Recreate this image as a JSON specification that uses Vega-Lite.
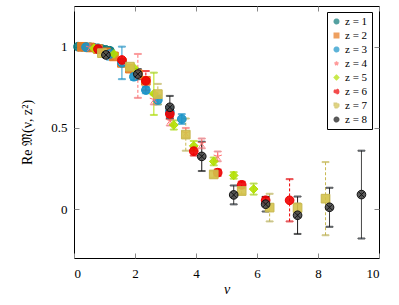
{
  "$schema": "https://vega.github.io/schema/vega-lite/v6.json",
  "width": 305,
  "height": 252,
  "autosize": {"type": "none"},
  "padding": {"left": 74, "top": 6, "right": 20, "bottom": 47},
  "background": "white",
  "config": {
    "view": {"stroke": "black", "strokeWidth": 1},
    "font": "Liberation Serif",
    "axis": {
      "grid": false,
      "domain": false,
      "tickColor": "#888888",
      "tickSize": -5,
      "labelFont": "Liberation Serif",
      "labelFontSize": 13,
      "labelColor": "black",
      "titleFont": "Liberation Serif",
      "titleFontSize": 14,
      "titleFontWeight": "normal",
      "titleColor": "black"
    },
    "legend": {
      "labelFont": "Liberation Serif",
      "labelFontSize": 11,
      "labelColor": "black"
    }
  },
  "data": {
    "values": [
      {"z": 1, "nu": 0.131, "y": 1.0},
      {"z": 1, "nu": 0.262, "y": 0.999},
      {"z": 1, "nu": 0.393, "y": 0.998},
      {"z": 1, "nu": 0.524, "y": 0.996},
      {"z": 1, "nu": 0.654, "y": 0.993},
      {"z": 1, "nu": 0.785, "y": 0.99},
      {"z": 1, "nu": 0.916, "y": 0.985},
      {"z": 1, "nu": 1.047, "y": 0.98},
      {"z": 1, "nu": 1.178, "y": 0.975},
      {"z": 2, "nu": 0.262, "y": 0.999},
      {"z": 2, "nu": 0.524, "y": 0.995},
      {"z": 2, "nu": 0.785, "y": 0.985},
      {"z": 2, "nu": 1.047, "y": 0.965},
      {"z": 2, "nu": 1.309, "y": 0.94},
      {"z": 2, "nu": 1.571, "y": 0.9},
      {"z": 2, "nu": 1.833, "y": 0.865},
      {"z": 2, "nu": 2.094, "y": 0.83},
      {"z": 2, "nu": 2.356, "y": 0.79},
      {"z": 3, "nu": 0.393, "y": 0.997},
      {"z": 3, "nu": 0.785, "y": 0.985},
      {"z": 3, "nu": 1.178, "y": 0.955, "lo": 0.92, "hi": 0.99},
      {"z": 3, "nu": 1.571, "y": 0.9, "lo": 0.8, "hi": 1.0},
      {"z": 3, "nu": 1.963, "y": 0.815, "lo": 0.795, "hi": 0.835},
      {"z": 3, "nu": 2.356, "y": 0.733, "lo": 0.713, "hi": 0.753},
      {"z": 3, "nu": 2.749, "y": 0.672, "lo": 0.645, "hi": 0.7},
      {"z": 3, "nu": 3.142, "y": 0.6, "lo": 0.57, "hi": 0.63},
      {"z": 3, "nu": 3.534, "y": 0.555, "lo": 0.525, "hi": 0.585},
      {"z": 4, "nu": 0.524, "y": 0.995},
      {"z": 4, "nu": 1.047, "y": 0.965},
      {"z": 4, "nu": 1.571, "y": 0.91},
      {"z": 4, "nu": 2.094, "y": 0.82, "lo": 0.685, "hi": 0.955},
      {"z": 4, "nu": 2.618, "y": 0.675, "lo": 0.645, "hi": 0.705},
      {"z": 4, "nu": 3.142, "y": 0.545, "lo": 0.515, "hi": 0.575},
      {"z": 4, "nu": 3.665, "y": 0.47, "lo": 0.44, "hi": 0.5},
      {"z": 4, "nu": 4.189, "y": 0.405, "lo": 0.375, "hi": 0.435},
      {"z": 4, "nu": 4.712, "y": 0.325, "lo": 0.295, "hi": 0.355},
      {"z": 5, "nu": 0.654, "y": 0.99},
      {"z": 5, "nu": 1.309, "y": 0.955},
      {"z": 5, "nu": 1.963, "y": 0.87},
      {"z": 5, "nu": 2.618, "y": 0.71, "lo": 0.58, "hi": 0.84},
      {"z": 5, "nu": 3.272, "y": 0.518, "lo": 0.49, "hi": 0.546},
      {"z": 5, "nu": 3.927, "y": 0.39, "lo": 0.36, "hi": 0.42},
      {"z": 5, "nu": 4.581, "y": 0.294, "lo": 0.27, "hi": 0.318},
      {"z": 5, "nu": 5.236, "y": 0.208, "lo": 0.188, "hi": 0.228},
      {"z": 5, "nu": 5.89, "y": 0.124, "lo": 0.09, "hi": 0.158},
      {"z": 6, "nu": 0.785, "y": 0.985},
      {"z": 6, "nu": 1.571, "y": 0.918},
      {"z": 6, "nu": 2.356, "y": 0.79, "lo": 0.73, "hi": 0.85},
      {"z": 6, "nu": 3.142, "y": 0.586, "lo": 0.566, "hi": 0.606},
      {"z": 6, "nu": 3.927, "y": 0.357, "lo": 0.33, "hi": 0.384},
      {"z": 6, "nu": 4.712, "y": 0.225, "lo": 0.205, "hi": 0.245},
      {"z": 6, "nu": 5.498, "y": 0.15, "lo": 0.13, "hi": 0.17},
      {"z": 6, "nu": 6.283, "y": 0.055, "lo": 0.035, "hi": 0.075},
      {"z": 6, "nu": 7.069, "y": 0.055, "lo": -0.075, "hi": 0.185},
      {"z": 7, "nu": 0.916, "y": 0.96},
      {"z": 7, "nu": 1.833, "y": 0.877},
      {"z": 7, "nu": 2.749, "y": 0.708, "lo": 0.645, "hi": 0.771},
      {"z": 7, "nu": 3.665, "y": 0.459, "lo": 0.36, "hi": 0.558},
      {"z": 7, "nu": 4.581, "y": 0.214, "lo": 0.194, "hi": 0.234},
      {"z": 7, "nu": 5.498, "y": 0.112, "lo": 0.092, "hi": 0.132},
      {"z": 7, "nu": 6.414, "y": 0.01, "lo": -0.075, "hi": 0.095},
      {"z": 7, "nu": 7.33, "y": 0.008, "lo": -0.02, "hi": 0.036},
      {"z": 7, "nu": 8.247, "y": 0.065, "lo": -0.16, "hi": 0.29},
      {"z": 8, "nu": 1.047, "y": 0.949, "lo": 0.939, "hi": 0.959},
      {"z": 8, "nu": 2.094, "y": 0.831, "lo": 0.8, "hi": 0.862},
      {"z": 8, "nu": 3.142, "y": 0.627, "lo": 0.557, "hi": 0.697},
      {"z": 8, "nu": 4.189, "y": 0.325, "lo": 0.235, "hi": 0.415},
      {"z": 8, "nu": 5.236, "y": 0.088, "lo": 0.03, "hi": 0.146},
      {"z": 8, "nu": 6.283, "y": 0.031, "lo": -0.014, "hi": 0.076},
      {"z": 8, "nu": 7.33, "y": -0.037, "lo": -0.152, "hi": 0.078},
      {"z": 8, "nu": 8.378, "y": 0.012, "lo": -0.108, "hi": 0.132},
      {"z": 8, "nu": 9.425, "y": 0.09, "lo": -0.18, "hi": 0.36}
    ]
  },
  "resolve": {"axis": {"x": "independent", "y": "independent"}},
  "layer": [
    {
      "transform": [{"filter": "isValid(datum.lo)"}],
      "mark": {"type": "rule", "strokeWidth": 1},
      "encoding": {
        "x": {"field": "nu", "type": "quantitative", "scale": {"domain": [0, 10], "nice": false}, "axis": null},
        "y": {"field": "lo", "type": "quantitative", "scale": {"domain": [-0.3, 1.25], "nice": false, "zero": false}, "axis": null},
        "y2": {"field": "hi"},
        "stroke": {"field": "z", "type": "nominal"},
        "strokeDash": {"field": "z", "type": "nominal", "legend": null,
          "scale": {"domain": [1,2,3,4,5,6,7,8], "range": [[1,0],[1,0],[1,0],[3,2],[1,0],[3,2],[3,2],[1,0]]}}
      }
    },
    {
      "transform": [{"filter": "isValid(datum.lo)"}],
      "mark": {"type": "tick", "orient": "horizontal", "size": 7, "thickness": 1},
      "encoding": {
        "x": {"field": "nu", "type": "quantitative", "axis": {"orient": "top", "labels": false, "title": null, "values": [0,2,4,6,8,10]}},
        "y": {"field": "lo", "type": "quantitative", "axis": null},
        "stroke": {"field": "z", "type": "nominal"}
      }
    },
    {
      "transform": [{"filter": "isValid(datum.lo)"}],
      "mark": {"type": "tick", "orient": "horizontal", "size": 7, "thickness": 1},
      "encoding": {
        "x": {"field": "nu", "type": "quantitative", "axis": null},
        "y": {"field": "hi", "type": "quantitative", "axis": {"orient": "right", "labels": false, "title": null, "values": [0, 0.5, 1]}},
        "stroke": {"field": "z", "type": "nominal"}
      }
    },
    {
      "mark": {"type": "point", "filled": true, "size": 75, "strokeWidth": 1, "fillOpacity": 0.9, "opacity": 1},
      "encoding": {
        "x": {"field": "nu", "type": "quantitative", "axis": {"orient": "bottom", "title": "ν", "values": [0,2,4,6,8,10], "labelPadding": 14, "titlePadding": 2, "titleFontStyle": "italic"}},
        "y": {"field": "y", "type": "quantitative", "axis": {"orient": "left", "title": "Re 𝔐(ν, z²)", "values": [0, 0.5, 1], "format": "~g", "labelPadding": 12, "titlePadding": 16}},
        "fill": {"field": "z", "type": "nominal",
          "scale": {"domain": [1,2,3,4,5,6,7,8], "range": ["#0d7a7a", "#e8781e", "#1a94c8", "#ff7070", "#b2e000", "#ee0000", "#d4c24a", "#4a4a4a"]},
          "legend": {"title": null, "orient": "none", "legendX": 253, "legendY": 6, "strokeColor": "black", "fillColor": "white", "padding": 4, "symbolSize": 20, "rowPadding": 2, "labelOffset": 3, "labelExpr": "'z = ' + datum.label"}},
        "stroke": {"field": "z", "type": "nominal",
          "scale": {"domain": [1,2,3,4,5,6,7,8], "range": ["#0d7a7a", "#e8781e", "#1a94c8", "#ff7070", "#b2e000", "#ee0000", "#c8b850", "#111111"]},
          "legend": {"title": null, "orient": "none", "legendX": 253, "legendY": 6, "strokeColor": "black", "fillColor": "white", "padding": 4, "symbolSize": 20, "rowPadding": 2, "labelOffset": 3, "labelExpr": "'z = ' + datum.label"}},
        "shape": {"field": "z", "type": "nominal",
          "scale": {"domain": [1,2,3,4,5,6,7,8], "range": ["circle", "square", "circle", "M0,0L0,-1M0,0L-0.951,-0.309M0,0L-0.588,0.809M0,0L0.588,0.809M0,0L0.951,-0.309", "diamond", "circle", "square", "M1,0A1,1,0,1,1,-1,0A1,1,0,1,1,1,0ZM-0.707,-0.707L0.707,0.707M-0.707,0.707L0.707,-0.707"]},
          "legend": {"title": null, "orient": "none", "legendX": 253, "legendY": 6, "strokeColor": "black", "fillColor": "white", "padding": 4, "symbolSize": 20, "rowPadding": 2, "labelOffset": 3, "labelExpr": "'z = ' + datum.label"}}
      }
    }
  ]
}
